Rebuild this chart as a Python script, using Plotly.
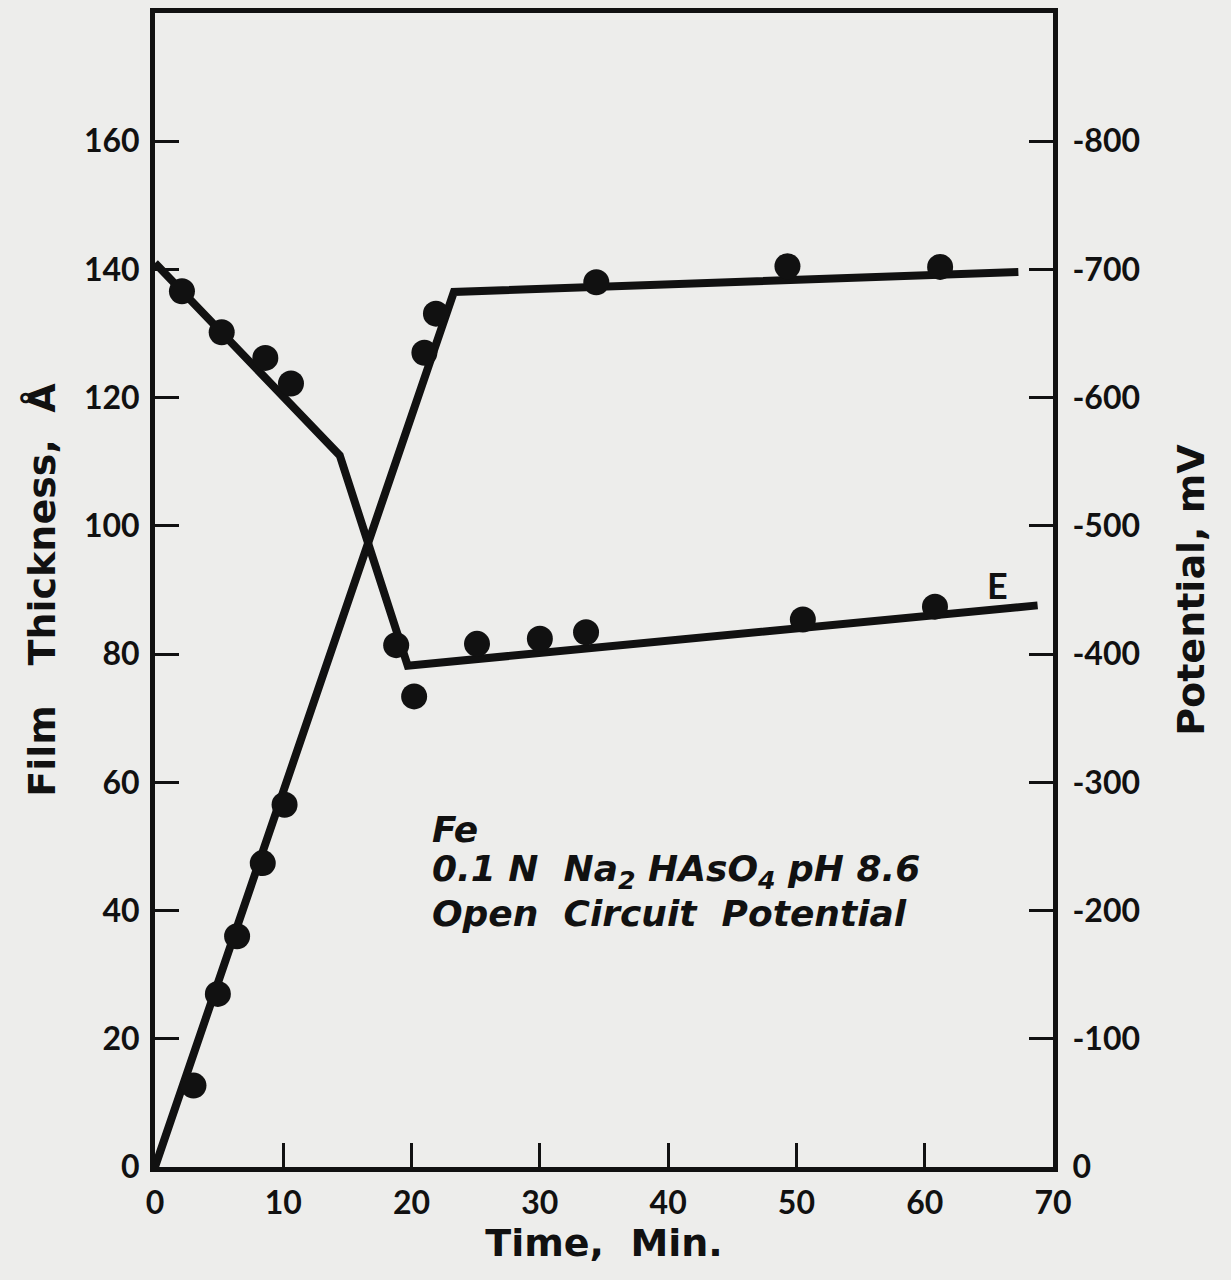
import plotly.graph_objects as go

# Film thickness (Å) vs time (min)
film_line_t = [0, 23.3, 67.3]
film_line_v = [0, 136.5, 139.6]
film_pts_t = [3.0, 4.9, 6.4, 8.4, 10.1, 21.0, 21.9, 34.4, 49.3, 61.2]
film_pts_v = [12.7, 27.0, 36.0, 47.4, 56.5, 127.0, 133.1, 138.0, 140.5, 140.4]

# Open circuit potential (mV) vs time (min)
e_line_t = [0, 14.4, 19.7, 68.8]
e_line_v = [-705, -555, -391, -438]
e_pts_t = [2.1, 5.2, 8.6, 10.6, 18.8, 20.2, 25.1, 30.0, 33.6, 50.5, 60.8]
e_pts_v = [-683, -651, -631, -611, -407, -367, -408, -412, -417, -427, -437]

x_ticks = [0, 10, 20, 30, 40, 50, 60, 70]
y_ticks = [0, 20, 40, 60, 80, 100, 120, 140, 160]
y2_ticks = [0, -100, -200, -300, -400, -500, -600, -700, -800]
y2_labels = ["0", "-100", "-200", "-300", "-400", "-500", "-600", "-700", "-800"]

INK = "#111111"
BG = "#ededeb"
tickfont = dict(family="Lato", size=32, color=INK, weight="bold")
titlefont = dict(family="DejaVu Sans", size=38, color=INK, weight="bold")

fig = go.Figure()
fig.add_trace(go.Scatter(x=film_line_t, y=film_line_v, mode="lines",
                         line=dict(color=INK, width=8), showlegend=False))
fig.add_trace(go.Scatter(x=film_pts_t, y=film_pts_v, mode="markers",
                         marker=dict(color=INK, size=26), showlegend=False))
fig.add_trace(go.Scatter(x=e_line_t, y=e_line_v, mode="lines", yaxis="y2",
                         line=dict(color=INK, width=8), showlegend=False))
fig.add_trace(go.Scatter(x=e_pts_t, y=e_pts_v, mode="markers", yaxis="y2",
                         marker=dict(color=INK, size=26), showlegend=False))

fig.update_layout(
    width=1231, height=1280,
    margin=dict(l=155, r=178, t=8, b=113),
    paper_bgcolor=BG, plot_bgcolor=BG,
    xaxis=dict(range=[0, 70], tickvals=x_ticks, ticks="inside", ticklen=24,
               tickwidth=3, tickcolor=INK, showline=True, linewidth=5,
               linecolor=INK, mirror=True, showgrid=False, zeroline=False,
               tickfont=tickfont, ticklabelstandoff=4,
               title=dict(text="Time,  Min.", font=titlefont, standoff=8)),
    yaxis=dict(range=[0, 180], tickvals=y_ticks, ticks="inside", ticklen=24,
               tickwidth=3, tickcolor=INK, showline=True, linewidth=5,
               linecolor=INK, showgrid=False, zeroline=False,
               tickfont=tickfont, ticklabelstandoff=4,
               title=dict(text="Film   Thickness,  Å", font=titlefont, standoff=18)),
    yaxis2=dict(range=[0, -900], tickvals=y2_ticks, ticktext=y2_labels,
                overlaying="y", side="right",
                ticks="inside", ticklen=24, tickwidth=3, tickcolor=INK,
                showline=True, linewidth=5, linecolor=INK, showgrid=False,
                zeroline=False, tickfont=tickfont, ticklabelstandoff=8,
                title=dict(text="Potential, mV", font=titlefont, standoff=40)),
)

annfont = dict(family="DejaVu Sans", size=36, color=INK, style="italic", weight="bold")
fig.add_annotation(x=21.4, y=52.6, text="Fe", showarrow=False, xanchor="left",
                   yanchor="middle", font=annfont)
fig.add_annotation(x=21.4, y=46.1, text="0.1 N  Na<sub>2</sub> HAsO<sub>4</sub> pH 8.6",
                   showarrow=False, xanchor="left", yanchor="middle", font=annfont)
fig.add_annotation(x=21.4, y=39.6, text="Open  Circuit  Potential", showarrow=False,
                   xanchor="left", yanchor="middle", font=annfont)
fig.add_annotation(x=65.7, y=90.8, text="E", showarrow=False, xanchor="center",
                   yanchor="middle", font=dict(family="Lato", size=36, color=INK, weight="bold"))

fig.write_html("out.html")
